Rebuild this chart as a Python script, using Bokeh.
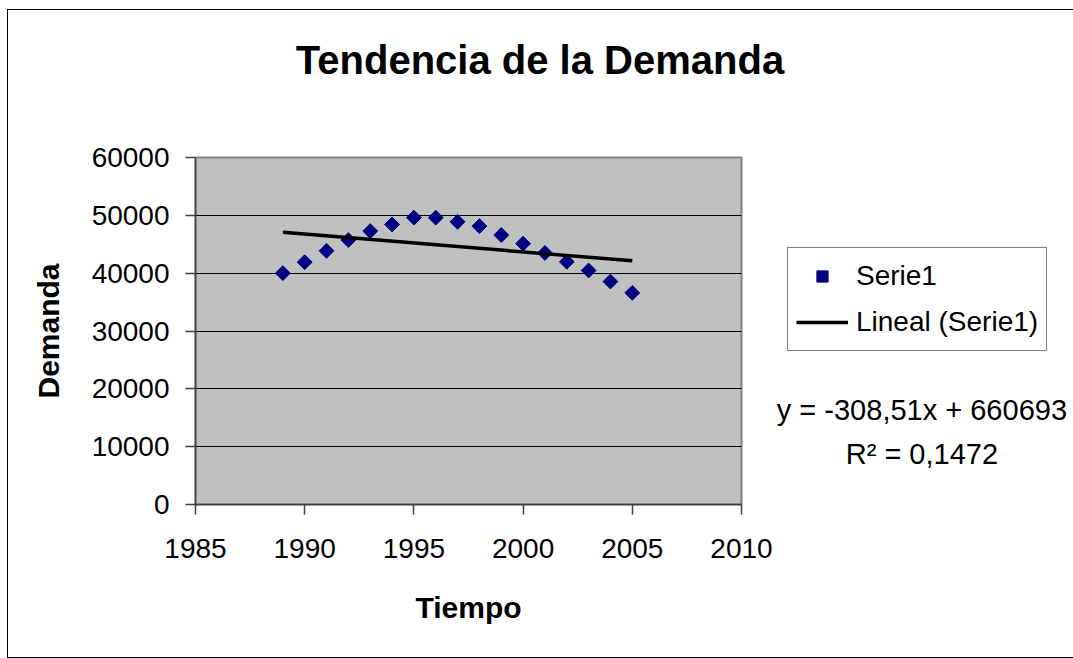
import math
from bokeh.plotting import figure
from bokeh.models import FixedTicker, Label, Legend, LegendItem, Range1d
from bokeh.embed import file_html
from bokeh.resources import INLINE

# ---- data ----
years = [1989, 1990, 1991, 1992, 1993, 1994, 1995, 1996, 1997,
         1998, 1999, 2000, 2001, 2002, 2003, 2004, 2005]
demanda = [40000, 41900, 43870, 45720, 47280, 48430, 49600, 49600, 48880,
           48130, 46600, 45100, 43500, 41980, 40460, 38550, 36600]
trend_slope = -308.51
trend_intercept = 660693
trend_years = [1989, 2005]
trend_values = [trend_slope * t + trend_intercept for t in trend_years]
x_ticks = [1985, 1990, 1995, 2000, 2005, 2010]
y_ticks = [0, 10000, 20000, 30000, 40000, 50000, 60000]
title_text = "Tendencia de la Demanda"
x_label = "Tiempo"
y_label = "Demanda"
series_name = "Serie1"
trend_name = "Lineal (Serie1)"
equation_text = "y = -308,51x + 660693"
r2_text = "R² = 0,1472"

FONT = "Liberation Sans"

p = figure(
    frame_width=546, frame_height=347,
    min_border_left=187, min_border_right=326,
    min_border_top=147, min_border_bottom=153,
    x_range=Range1d(1985, 2010), y_range=Range1d(0, 60000),
    output_backend="svg", toolbar_location=None,
    background_fill_color="#C0C0C0", border_fill_color="white",
    outline_line_color="#808080", outline_line_width=2,
    styles={"border": "1px solid black", "margin-left": "7px", "margin-top": "9px"},
)

# grid
p.xgrid.grid_line_color = None
p.ygrid.grid_line_color = "black"
p.ygrid.grid_line_width = 1

# axes
for ax in (p.xaxis[0], p.yaxis[0]):
    ax.axis_line_color = "#404040"
    ax.axis_line_width = 1.5
    ax.major_tick_line_color = "#404040"
    ax.major_tick_line_width = 1.5
    ax.major_tick_in = 0
    ax.major_tick_out = 10
    ax.minor_tick_line_color = None
    ax.major_label_text_font = FONT
    ax.major_label_text_font_size = "28px"
    ax.major_label_text_color = "black"
    ax.axis_label_text_font = FONT
    ax.axis_label_text_font_size = "30px"
    ax.axis_label_text_font_style = "bold"
    ax.axis_label_text_color = "black"

p.xaxis.ticker = FixedTicker(ticks=x_ticks)
p.yaxis.ticker = FixedTicker(ticks=y_ticks)
p.xaxis.axis_label = x_label
p.yaxis.axis_label = y_label
p.xaxis.major_label_standoff = 24
p.yaxis.major_label_standoff = 16
p.xaxis.axis_label_standoff = 30
p.yaxis.axis_label_standoff = 24

# glyphs
r_pts = p.scatter(years, demanda, marker="square", size=10.5, angle=math.pi / 4,
                  fill_color="#000080", line_color="#000080")
r_line = p.line(trend_years, trend_values, line_color="black", line_width=3.5)

legend = Legend(
    items=[LegendItem(label=series_name, renderers=[r_pts]),
           LegendItem(label=trend_name, renderers=[r_line])],
    location=(46, 153),
    label_text_font=FONT, label_text_font_size="28px", label_text_color="black",
    glyph_width=52, glyph_height=28, label_height=40,
    label_standoff=8, padding=8, spacing=6, margin=0,
    border_line_color="black", border_line_width=1,
    background_fill_color="white", background_fill_alpha=1,
)
p.add_layout(legend, "right")

# title (above panel: x from frame left, y up from panel bottom)
p.add_layout(Label(x=344.5, y=98, x_units="screen", y_units="screen",
                   text=title_text, text_align="center", text_baseline="alphabetic",
                   text_font=FONT, text_font_size="40px", text_font_style="bold",
                   text_color="black"), "above")

# trend equation, placed right of the plot area
eq_x = 2018.26
p.add_layout(Label(x=eq_x, y=95, x_units="data", y_units="screen",
                   text=equation_text, text_align="center", text_baseline="alphabetic",
                   text_font=FONT, text_font_size="29px", text_color="black"), "right")
p.add_layout(Label(x=eq_x, y=51, x_units="data", y_units="screen",
                   text=r2_text, text_align="center", text_baseline="alphabetic",
                   text_font=FONT, text_font_size="29px", text_color="black"), "right")

open("out.html", "w").write(file_html(p, INLINE))
